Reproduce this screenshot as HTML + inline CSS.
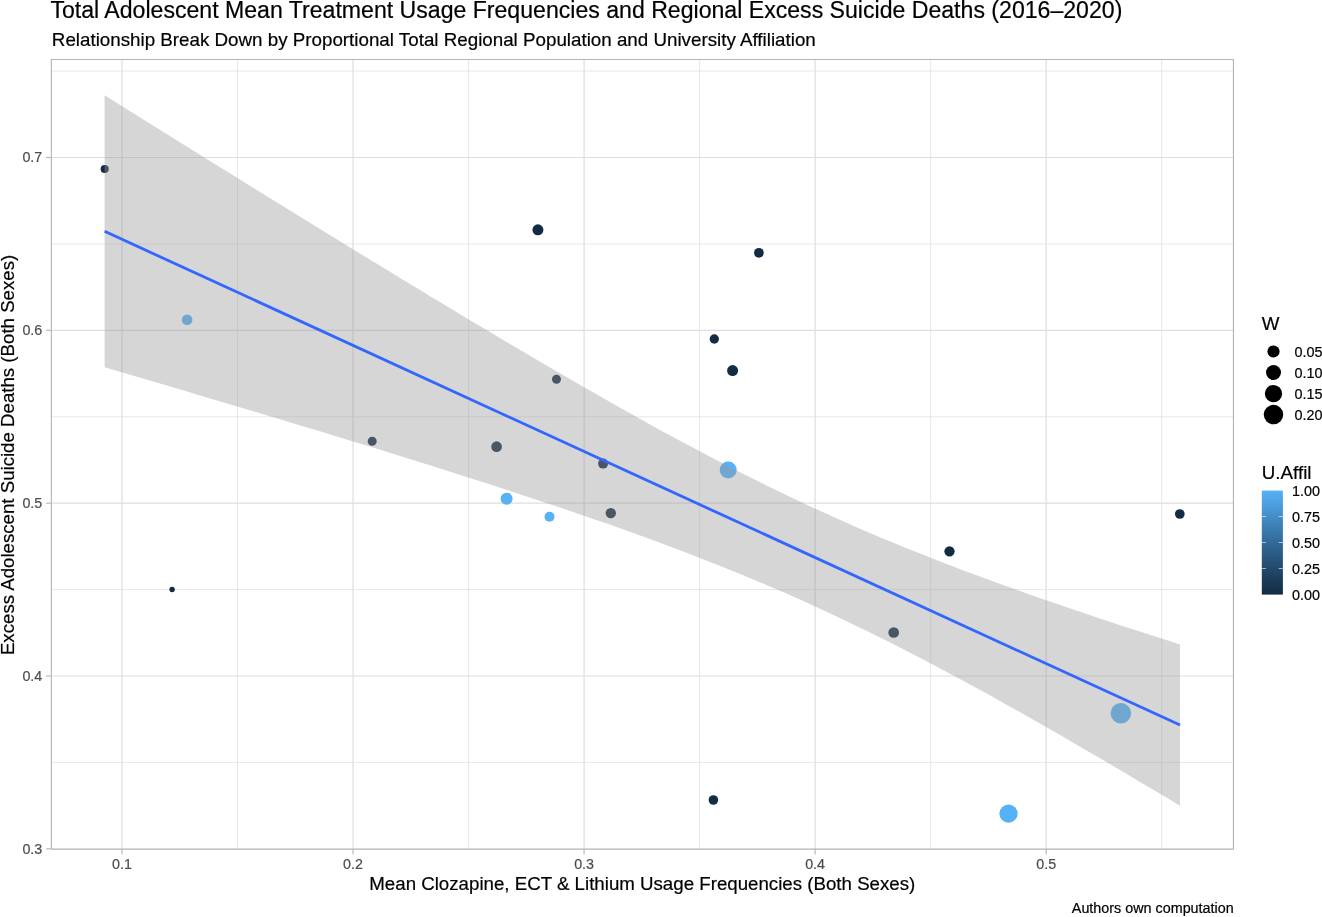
<!DOCTYPE html>
<html lang="en"><head><meta charset="utf-8"><title>Total Adolescent Mean Treatment Usage Frequencies and Regional Excess Suicide Deaths (2016–2020)</title>
<style>
html,body{margin:0;padding:0;background:#fff;}
body{width:1322px;height:917px;overflow:hidden;position:relative;font-family:"Liberation Sans",Arial,Helvetica,sans-serif;}
svg{position:absolute;left:0;top:0;display:block}
text{font-family:"Liberation Sans",Arial,Helvetica,sans-serif;stroke-width:0.2px;}
.k{stroke:#000}.g{stroke:#4d4d4d}
</style></head><body>
<svg width="1322" height="917" viewBox="0 0 1322 917">
<rect x="0" y="0" width="1322" height="917" fill="#ffffff"/>
<text x="50.4" y="17.75" font-size="23.1" fill="#000" class="k">Total Adolescent Mean Treatment Usage Frequencies and Regional Excess Suicide Deaths (2016–2020)</text>
<text x="51.85" y="45.8" font-size="18.78" fill="#000" class="k">Relationship Break Down by Proportional Total Regional Population and University Affiliation</text>
<g stroke="#dedede" stroke-width="0.7" fill="none">
<line x1="237.52" x2="237.52" y1="59.0" y2="849.85"/>
<line x1="468.56" x2="468.56" y1="59.0" y2="849.85"/>
<line x1="699.59" x2="699.59" y1="59.0" y2="849.85"/>
<line x1="930.63" x2="930.63" y1="59.0" y2="849.85"/>
<line x1="1161.67" x2="1161.67" y1="59.0" y2="849.85"/>
<line y1="762.41" y2="762.41" x1="50.8" x2="1234.0"/>
<line y1="589.58" y2="589.58" x1="50.8" x2="1234.0"/>
<line y1="416.75" y2="416.75" x1="50.8" x2="1234.0"/>
<line y1="243.92" y2="243.92" x1="50.8" x2="1234.0"/>
<line y1="71.08" y2="71.08" x1="50.8" x2="1234.0"/>
</g>
<g stroke="#dedede" stroke-width="1.2" fill="none">
<line x1="122.00" x2="122.00" y1="59.0" y2="849.85"/>
<line x1="353.04" x2="353.04" y1="59.0" y2="849.85"/>
<line x1="584.08" x2="584.08" y1="59.0" y2="849.85"/>
<line x1="815.11" x2="815.11" y1="59.0" y2="849.85"/>
<line x1="1046.15" x2="1046.15" y1="59.0" y2="849.85"/>
<line y1="676.00" y2="676.00" x1="50.8" x2="1234.0"/>
<line y1="503.17" y2="503.17" x1="50.8" x2="1234.0"/>
<line y1="330.33" y2="330.33" x1="50.8" x2="1234.0"/>
<line y1="157.50" y2="157.50" x1="50.8" x2="1234.0"/>
</g>
<g stroke="none">
<circle cx="104.70" cy="169.00" r="4.10" fill="#132b43"/>
<circle cx="187.10" cy="319.80" r="5.30" fill="#56b1f7"/>
<circle cx="172.10" cy="589.50" r="2.70" fill="#132b43"/>
<circle cx="372.20" cy="441.30" r="4.50" fill="#132b43"/>
<circle cx="496.60" cy="446.70" r="5.35" fill="#132b43"/>
<circle cx="506.60" cy="498.70" r="6.00" fill="#56b1f7"/>
<circle cx="549.50" cy="516.70" r="5.00" fill="#56b1f7"/>
<circle cx="537.90" cy="229.80" r="5.50" fill="#132b43"/>
<circle cx="556.50" cy="379.20" r="4.50" fill="#132b43"/>
<circle cx="603.10" cy="463.60" r="5.00" fill="#132b43"/>
<circle cx="610.80" cy="513.10" r="5.20" fill="#132b43"/>
<circle cx="714.30" cy="339.00" r="4.65" fill="#132b43"/>
<circle cx="732.60" cy="370.60" r="5.50" fill="#132b43"/>
<circle cx="758.90" cy="252.80" r="4.85" fill="#132b43"/>
<circle cx="728.20" cy="470.00" r="8.50" fill="#56b1f7"/>
<circle cx="713.40" cy="800.00" r="4.80" fill="#132b43"/>
<circle cx="893.70" cy="632.50" r="5.35" fill="#132b43"/>
<circle cx="949.50" cy="551.30" r="5.15" fill="#132b43"/>
<circle cx="1008.50" cy="813.60" r="9.15" fill="#56b1f7"/>
<circle cx="1120.85" cy="713.20" r="10.30" fill="#56b1f7"/>
<circle cx="1179.80" cy="514.00" r="4.85" fill="#132b43"/>
</g>
<path d="M104.6,95.3 L118.2,103.8 L131.8,112.3 L145.4,120.8 L159.1,129.3 L172.7,137.8 L186.3,146.3 L199.9,154.7 L213.5,163.2 L227.1,171.6 L240.7,180.1 L254.3,188.5 L268.0,196.9 L281.6,205.3 L295.2,213.7 L308.8,222.1 L322.4,230.5 L336.0,238.8 L349.6,247.2 L363.2,255.5 L376.9,263.8 L390.5,272.1 L404.1,280.4 L417.7,288.6 L431.3,296.9 L444.9,305.1 L458.5,313.3 L472.1,321.4 L485.8,329.6 L499.4,337.7 L513.0,345.7 L526.6,353.8 L540.2,361.7 L553.8,369.7 L567.4,377.6 L581.0,385.5 L594.7,393.3 L608.3,401.0 L621.9,408.7 L635.5,416.3 L649.1,423.9 L662.7,431.4 L676.3,438.8 L689.9,446.1 L703.6,453.3 L717.2,460.4 L730.8,467.5 L744.4,474.4 L758.0,481.2 L771.6,488.0 L785.2,494.6 L798.8,501.0 L812.5,507.4 L826.1,513.6 L839.7,519.8 L853.3,525.8 L866.9,531.7 L880.5,537.5 L894.1,543.1 L907.7,548.7 L921.4,554.1 L935.0,559.5 L948.6,564.8 L962.2,569.9 L975.8,575.0 L989.4,580.0 L1003.0,585.0 L1016.6,589.8 L1030.3,594.7 L1043.9,599.4 L1057.5,604.1 L1071.1,608.7 L1084.7,613.3 L1098.3,617.9 L1111.9,622.4 L1125.5,626.9 L1139.2,631.3 L1152.8,635.7 L1166.4,640.1 L1180.0,644.4 L1180.0,805.8 L1166.4,797.6 L1152.8,789.5 L1139.2,781.4 L1125.5,773.3 L1111.9,765.3 L1098.3,757.3 L1084.7,749.4 L1071.1,741.5 L1057.5,733.6 L1043.9,725.8 L1030.3,718.0 L1016.6,710.3 L1003.0,702.7 L989.4,695.1 L975.8,687.7 L962.2,680.2 L948.6,672.9 L935.0,665.7 L921.4,658.5 L907.7,651.5 L894.1,644.6 L880.5,637.7 L866.9,631.0 L853.3,624.4 L839.7,617.9 L826.1,611.5 L812.5,605.3 L798.8,599.1 L785.2,593.1 L771.6,587.2 L758.0,581.4 L744.4,575.7 L730.8,570.2 L717.2,564.7 L703.6,559.4 L689.9,554.1 L676.3,548.9 L662.7,543.8 L649.1,538.8 L635.5,533.8 L621.9,529.0 L608.3,524.1 L594.7,519.4 L581.0,514.7 L567.4,510.0 L553.8,505.4 L540.2,500.9 L526.6,496.4 L513.0,491.9 L499.4,487.5 L485.8,483.1 L472.1,478.7 L458.5,474.4 L444.9,470.0 L431.3,465.8 L417.7,461.5 L404.1,457.2 L390.5,453.0 L376.9,448.8 L363.2,444.6 L349.6,440.4 L336.0,436.3 L322.4,432.1 L308.8,428.0 L295.2,423.9 L281.6,419.8 L268.0,415.7 L254.3,411.6 L240.7,407.5 L227.1,403.5 L213.5,399.4 L199.9,395.4 L186.3,391.3 L172.7,387.3 L159.1,383.3 L145.4,379.3 L131.8,375.3 L118.2,371.3 L104.6,367.3Z" fill="#999999" fill-opacity="0.4" stroke="none"/>
<line x1="104.6" y1="231.3" x2="1180.0" y2="725.1" stroke="#3366ff" stroke-width="2.8" />
<path fill-rule="evenodd" fill="#b3b3b3" d="M50.8,59.0H1234.0V849.85H50.8Z M51.919999999999995,60.12H1232.88V848.53H51.919999999999995Z"/>
<g stroke="#b3b3b3" stroke-width="1.1" fill="none">
<line x1="122.00" x2="122.00" y1="849.85" y2="854.5500000000001"/>
<line x1="353.04" x2="353.04" y1="849.85" y2="854.5500000000001"/>
<line x1="584.08" x2="584.08" y1="849.85" y2="854.5500000000001"/>
<line x1="815.11" x2="815.11" y1="849.85" y2="854.5500000000001"/>
<line x1="1046.15" x2="1046.15" y1="849.85" y2="854.5500000000001"/>
<line y1="848.83" y2="848.83" x1="46.099999999999994" x2="50.8"/>
<line y1="676.00" y2="676.00" x1="46.099999999999994" x2="50.8"/>
<line y1="503.17" y2="503.17" x1="46.099999999999994" x2="50.8"/>
<line y1="330.33" y2="330.33" x1="46.099999999999994" x2="50.8"/>
<line y1="157.50" y2="157.50" x1="46.099999999999994" x2="50.8"/>
</g>
<g font-size="14.3" fill="#4d4d4d" class="g">
<text x="122.00" y="869.1" text-anchor="middle">0.1</text>
<text x="353.04" y="869.1" text-anchor="middle">0.2</text>
<text x="584.08" y="869.1" text-anchor="middle">0.3</text>
<text x="815.11" y="869.1" text-anchor="middle">0.4</text>
<text x="1046.15" y="869.1" text-anchor="middle">0.5</text>
<text x="42.3" y="853.78" text-anchor="end">0.3</text>
<text x="42.3" y="680.95" text-anchor="end">0.4</text>
<text x="42.3" y="508.12" text-anchor="end">0.5</text>
<text x="42.3" y="335.28" text-anchor="end">0.6</text>
<text x="42.3" y="162.45" text-anchor="end">0.7</text>
</g>
<text x="642.3" y="890.2" font-size="18.71" text-anchor="middle" fill="#000" class="k">Mean Clozapine, ECT &amp; Lithium Usage Frequencies (Both Sexes)</text>
<text transform="translate(13.7,454.95) rotate(-90)" font-size="18.67" text-anchor="middle" fill="#000" class="k">Excess Adolescent Suicide Deaths (Both Sexes)</text>
<text x="1233.7" y="913.2" font-size="14.35" text-anchor="end" fill="#000" class="k">Authors own computation</text>
<text x="1261.8" y="329.5" font-size="18.75" fill="#000" class="k">W</text>
<circle cx="1273.5" cy="351.5" r="6.10" fill="#000"/>
<text x="1294.4" y="356.7" font-size="14.4" fill="#000" class="k">0.05</text>
<circle cx="1273.5" cy="372.5" r="7.50" fill="#000"/>
<text x="1294.4" y="377.7" font-size="14.4" fill="#000" class="k">0.10</text>
<circle cx="1273.5" cy="393.6" r="8.65" fill="#000"/>
<text x="1294.4" y="398.8" font-size="14.4" fill="#000" class="k">0.15</text>
<circle cx="1273.5" cy="414.6" r="9.75" fill="#000"/>
<text x="1294.4" y="419.8" font-size="14.4" fill="#000" class="k">0.20</text>
<defs><linearGradient id="cb" x1="0" y1="1" x2="0" y2="0"><stop offset="0" stop-color="#132b43"/><stop offset="0.25" stop-color="#22496c"/><stop offset="0.5" stop-color="#326a98"/><stop offset="0.75" stop-color="#438dc7"/><stop offset="1" stop-color="#56b1f7"/></linearGradient></defs>
<text x="1261.8" y="479.1" font-size="18.75" fill="#000" class="k">U.Affil</text>
<rect x="1261.8" y="490.6" width="21.1" height="104.0" fill="url(#cb)"/>
<g stroke="#ffffff" stroke-width="0.6">
<line x1="1261.8" x2="1266.0" y1="516.5" y2="516.5"/><line x1="1278.7" x2="1282.9" y1="516.5" y2="516.5"/>
<line x1="1261.8" x2="1266.0" y1="542.5" y2="542.5"/><line x1="1278.7" x2="1282.9" y1="542.5" y2="542.5"/>
<line x1="1261.8" x2="1266.0" y1="568.5" y2="568.5"/><line x1="1278.7" x2="1282.9" y1="568.5" y2="568.5"/>
</g>
<text x="1291.9" y="496.4" font-size="14.4" fill="#000" class="k">1.00</text>
<text x="1291.9" y="522.1" font-size="14.4" fill="#000" class="k">0.75</text>
<text x="1291.9" y="548.1" font-size="14.4" fill="#000" class="k">0.50</text>
<text x="1291.9" y="574.1" font-size="14.4" fill="#000" class="k">0.25</text>
<text x="1291.9" y="600.1" font-size="14.4" fill="#000" class="k">0.00</text>
</svg>
</body></html>
